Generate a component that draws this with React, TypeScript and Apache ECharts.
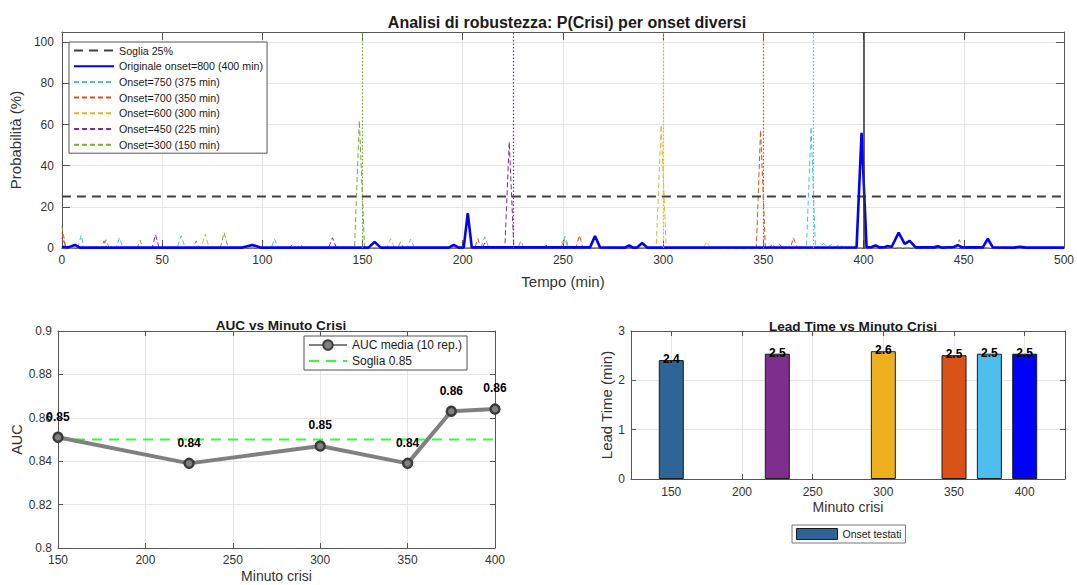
import React, { useEffect, useRef } from "react";
import * as echarts from "echarts";

// ---------- data ----------
const timeRange = [0, 500];
const probThreshold = 25;

const probOriginal: number[][] = [
  [0, 0.5], [3, 0.3], [6.5, 1.5], [9, 0.2], [90, 0.2], [95, 1.5], [99, 0.2], [153, 0.2], [156, 3], [159, 0.2],
  [193, 0.2], [195.5, 1.5], [198, 0.2], [200.5, 0.3], [202.5, 17], [204.5, 0.3], [263.5, 0.3], [266, 5.8], [268.5, 0.3],
  [281, 0.2], [283, 1.2], [285, 0.2], [287, 0.2], [289.5, 2.4], [292, 0.2], [396.5, 0.3], [399, 56], [401.5, 0.3],
  [404, 0.5], [406, 1.2], [408, 0.3], [410.5, 0.4], [412, 1], [414, 0.5], [417.5, 7.5], [420.5, 2], [423, 3.5], [426, 0.3],
  [435, 0.3], [437, 0.8], [439, 0.2], [445, 0.5], [447, 1.4], [449, 0.3], [459.5, 0.3], [462, 4.5], [464.5, 0.3],
  [475, 0.2], [478, 0.6], [481, 0.2], [500, 0.2],
];
const prob750: number[][] = [
  [0, 0], [8, 0], [9.6, 6.2], [11, 0], [27, 0], [28.7, 5], [30.5, 0], [57.5, 0], [59.5, 6], [61.5, 0], [104.5, 0], [106, 4.5],
  [108, 0], [172, 0], [174, 4.2], [176, 0], [209, 0], [211, 5.4], [213, 0], [249, 0], [251, 5.7], [253, 0], [371.5, 0],
  [373.8, 58.9], [376, 0], [378, 0], [380, 2.2], [382, 0.5], [384, 1.8], [386, 0.5], [388, 1.8], [390, 0], [500, 0],
];
const prob700: number[][] = [
  [0, 7.5], [2, 0], [19.5, 0], [21, 3.5], [22.5, 0], [113, 0], [115, 1.5], [117, 0], [119, 1.5], [121, 0], [206, 0],
  [207.5, 4.5], [209, 0], [256.5, 0], [258.2, 6.2], [260, 0], [346.5, 0], [348.6, 57.3], [351, 0], [353, 0], [354.5, 2],
  [356, 0], [358, 1.8], [360, 0], [363.5, 0], [365, 5], [367, 0], [446, 0], [447.8, 4], [449.5, 0], [500, 0],
];
const prob600: number[][] = [
  [0, 0], [69.5, 0], [71.5, 6.8], [73.5, 0], [162, 0], [164, 4.5], [166, 0], [248, 0], [250, 3.5], [252, 0],
  [296.5, 0], [299, 59.7], [301.5, 0], [320, 0], [321.8, 3], [323.5, 0], [500, 0],
];
const prob450: number[][] = [
  [0, 5], [1.5, 0], [45, 0], [46.7, 6.5], [48.5, 0], [133, 0], [135, 5], [137, 0], [209.5, 0], [211, 2.5], [212.5, 0],
  [221, 0], [223.2, 51.6], [225.5, 0], [240, 0], [241.5, 1.5], [243, 0], [500, 0],
];
const prob300: number[][] = [
  [0, 10.6], [2, 0], [20.5, 0], [22, 4], [23.5, 0], [37.5, 0], [39, 3.7], [40.5, 0], [65.5, 0], [67, 3.5], [68.5, 0],
  [79, 0], [80.9, 7.5], [83, 0], [146, 0], [148.4, 61.9], [151, 0], [167.5, 0], [169, 3], [170.5, 0], [227.5, 0],
  [229, 3.5], [230.5, 0], [249.5, 0], [251, 4.5], [252.5, 0], [500, 0],
];

const onsetMinutes = [150, 225, 300, 350, 375, 400];
const aucMean = [0.851, 0.839, 0.847, 0.839, 0.863, 0.864];
const aucThreshold = 0.85;
const leadTime = [2.41, 2.54, 2.59, 2.51, 2.54, 2.54];
const barColors = ["#2f6496", "#7e2f8e", "#edb120", "#d95319", "#4dbeee", "#0000ff"];
const leadTicks = [150, 200, 250, 300, 350, 400];

const FONT = "'Liberation Sans', Arial, Helvetica, sans-serif";
const AXC = "#555555";
const TXT = "#333333";
const GRIDC = "#e6e6e6";

function axisPair(gridIndex: number, opts: any, pos: "x" | "y", tickLen: number, nameSize: number) {
  const main: any = {
    gridIndex,
    type: "value",
    ...opts,
    axisLine: { show: true, onZero: false, lineStyle: { color: AXC, width: 1 } },
    axisTick: { show: true, inside: true, length: tickLen, lineStyle: { color: AXC }, ...(opts.axisTick || {}) },
    axisLabel: { color: TXT, fontFamily: FONT, fontSize: 12, ...(opts.axisLabel || {}) },
    splitLine: { show: true, lineStyle: { color: GRIDC, width: 1 } },
    nameTextStyle: { color: TXT, fontFamily: FONT, fontSize: nameSize },
  };
  const mirror: any = {
    gridIndex,
    type: "value",
    min: opts.min,
    max: opts.max,
    interval: opts.interval,
    position: pos === "x" ? "top" : "right",
    axisLine: { show: true, onZero: false, lineStyle: { color: AXC, width: 1 } },
    axisTick: { show: true, inside: true, length: tickLen, lineStyle: { color: AXC }, ...(opts.axisTick || {}) },
    axisLabel: { show: false, ...(opts.axisLabel && opts.axisLabel.customValues ? { customValues: opts.axisLabel.customValues } : {}) },
    splitLine: { show: false },
  };
  return [main, mirror];
}

export default function App() {
  const ref = useRef<HTMLDivElement>(null);
  useEffect(() => {
    document.body.style.margin = "0";
    const chart = echarts.init(ref.current!, null, { renderer: "svg" });

    const dashed = [5, 3];
    const vline = (x: number, color: string) => ({
      symbol: "none",
      silent: true,
      label: { show: false },
      lineStyle: { type: [1.5, 2], color, width: 1.2 },
      data: [{ xAxis: x }],
    });

    const [x0, x0m] = axisPair(0, {
      min: timeRange[0], max: timeRange[1], interval: 50,
      name: "Tempo (min)", nameLocation: "middle", nameGap: 26,
      axisLabel: { margin: 6 },
    }, "x", 8, 15);
    const [y0, y0m] = axisPair(0, {
      min: 0, max: 105, interval: 20,
      name: "Probabilità (%)", nameLocation: "middle", nameGap: 31,
      axisLabel: { showMaxLabel: false, margin: 8 },
    }, "y", 8, 15);
    const [x1, x1m] = axisPair(1, {
      min: 150, max: 400, interval: 50,
      name: "Minuto crisi", nameLocation: "middle", nameGap: 21,
      axisLabel: { margin: 6 },
    }, "x", 5, 14);
    const [y1, y1m] = axisPair(1, {
      min: 0.8, max: 0.9, interval: 0.02,
      name: "AUC", nameLocation: "middle", nameGap: 31,
      axisLabel: { formatter: (v: number) => (Math.abs(v - 0.8) < 1e-9 || Math.abs(v - 0.9) < 1e-9 ? v.toFixed(1) : v.toFixed(2)), margin: 6 },
    }, "y", 5, 14.5);
    const [x2, x2m] = axisPair(2, {
      min: 121.5, max: 428.5,
      name: "Minuto crisi", nameLocation: "middle", nameGap: 21,
      axisLabel: { customValues: leadTicks, margin: 7 },
      axisTick: { customValues: leadTicks },
    }, "x", 5, 14);
    const [y2, y2m] = axisPair(2, {
      min: 0, max: 3, interval: 1,
      name: "Lead Time (min)", nameLocation: "middle", nameGap: 12,
      axisLabel: { margin: 6 },
    }, "y", 5, 15);

    const option: any = {
      animation: false,
      backgroundColor: "#ffffff",
      textStyle: { fontFamily: FONT },
      title: [
        { text: "Analisi di robustezza: P(Crisi) per onset diversi", left: 562, top: 9, textAlign: "center",
          textStyle: { fontFamily: FONT, fontSize: 16, fontWeight: "bold", color: "#1a1a1a" } },
        { text: "AUC vs Minuto Crisi", left: 276, top: 313, textAlign: "center",
          textStyle: { fontFamily: FONT, fontSize: 13.6, fontWeight: "bold", color: "#1a1a1a" } },
        { text: "Lead Time vs Minuto Crisi", left: 848, top: 314, textAlign: "center",
          textStyle: { fontFamily: FONT, fontSize: 13.6, fontWeight: "bold", color: "#1a1a1a" } },
      ],
      grid: [
        { left: 59, top: 32, width: 1006, height: 216 },
        { left: 58, top: 331, width: 437, height: 217 },
        { left: 631, top: 331, width: 434, height: 148 },
      ],
      xAxis: [x0, x0m, x1, x1m, x2, x2m],
      yAxis: [y0, y0m, y1, y1m, y2, y2m],
      legend: [
        {
          left: 69, top: 42, orient: "vertical", itemWidth: 40, itemHeight: 10, itemGap: 4.7,
          padding: [3, 4, 3, 4], backgroundColor: "#ffffff", borderColor: "#555", borderWidth: 1,
          itemStyle: { opacity: 0 },
          textStyle: { fontFamily: FONT, fontSize: 10.7, color: "#1a1a1a" },
          data: ["Soglia 25%", "Originale onset=800 (400 min)", "Onset=750 (375 min)", "Onset=700 (350 min)",
            "Onset=600 (300 min)", "Onset=450 (225 min)", "Onset=300 (150 min)"],
        },
        {
          left: 304, top: 336, orient: "vertical", itemWidth: 38, itemHeight: 12, itemGap: 4,
          padding: [3, 5, 3, 4], backgroundColor: "#ffffff", borderColor: "#555", borderWidth: 1,
          textStyle: { fontFamily: FONT, fontSize: 12, color: "#1a1a1a" },
          data: ["AUC media (10 rep.)", { name: "Soglia 0.85", itemStyle: { opacity: 0 } }],
        },
        {
          left: 792, top: 525, orient: "horizontal", itemWidth: 41, itemHeight: 11, itemGap: 4,
          padding: [3, 4, 3, 4], backgroundColor: "#ffffff", borderColor: "#777", borderWidth: 1,
          icon: "rect",
          itemStyle: { borderWidth: 1 },
          textStyle: { fontFamily: FONT, fontSize: 10.5, color: "#1a1a1a" },
          data: ["Onset testati"],
        },
      ],
      series: [
        { name: "Soglia 25%", type: "line", xAxisIndex: 0, yAxisIndex: 0, symbol: "none", z: 3,
          lineStyle: { color: "#404040", width: 2, type: [9, 6] }, itemStyle: { color: "#404040" },
          data: [[timeRange[0], probThreshold], [timeRange[1], probThreshold]] },
        { name: "Onset=300 (150 min)", type: "line", xAxisIndex: 0, yAxisIndex: 0, symbol: "none", z: 2,
          lineStyle: { color: "#77ac30", width: 1, type: dashed }, itemStyle: { color: "#77ac30" },
          data: prob300, markLine: vline(150, "#77ac30") },
        { name: "Onset=450 (225 min)", type: "line", xAxisIndex: 0, yAxisIndex: 0, symbol: "none", z: 2,
          lineStyle: { color: "#7e2f8e", width: 1, type: dashed }, itemStyle: { color: "#7e2f8e" },
          data: prob450, markLine: vline(225, "#7e2f8e") },
        { name: "Onset=600 (300 min)", type: "line", xAxisIndex: 0, yAxisIndex: 0, symbol: "none", z: 2,
          lineStyle: { color: "#edb120", width: 1, type: dashed }, itemStyle: { color: "#edb120" },
          data: prob600, markLine: vline(300, "#edb120") },
        { name: "Onset=700 (350 min)", type: "line", xAxisIndex: 0, yAxisIndex: 0, symbol: "none", z: 2,
          lineStyle: { color: "#d95319", width: 1, type: dashed }, itemStyle: { color: "#d95319" },
          data: prob700, markLine: vline(350, "#d95319") },
        { name: "Onset=750 (375 min)", type: "line", xAxisIndex: 0, yAxisIndex: 0, symbol: "none", z: 2,
          lineStyle: { color: "#4dbeee", width: 1, type: dashed }, itemStyle: { color: "#4dbeee" },
          data: prob750, markLine: vline(375, "#4dbeee") },
        { name: "Originale onset=800 (400 min)", type: "line", xAxisIndex: 0, yAxisIndex: 0, symbol: "none", z: 4,
          lineStyle: { color: "#0000ff", width: 2.6 }, itemStyle: { color: "#0000ff" },
          data: probOriginal,
          markLine: { symbol: "none", silent: true, label: { show: false },
            lineStyle: { type: "solid", color: "#333333", width: 1.5 }, data: [{ xAxis: 400 }] } },

        { name: "Soglia 0.85", type: "line", xAxisIndex: 2, yAxisIndex: 2, symbol: "none", z: 2,
          lineStyle: { color: "#33ff33", width: 2, type: [10, 7] }, itemStyle: { color: "#33ff33" },
          data: [[onsetMinutes[0], aucThreshold], [onsetMinutes[onsetMinutes.length - 1], aucThreshold]] },
        { name: "AUC media (10 rep.)", type: "line", xAxisIndex: 2, yAxisIndex: 2, z: 3,
          symbol: "circle", symbolSize: 9,
          lineStyle: { color: "#808080", width: 4 },
          itemStyle: { color: "#808080", borderColor: "#3c3c3c", borderWidth: 2.5 },
          label: { show: true, position: "top", distance: 9, color: "#000", fontWeight: "bold", fontSize: 12, fontFamily: FONT,
            formatter: (p: any) => Number(p.value[1]).toFixed(2) },
          data: onsetMinutes.map((m, i) => [m, aucMean[i]]) },

        { name: "Onset testati", type: "bar", xAxisIndex: 4, yAxisIndex: 4, barWidth: 25, z: 3,
          itemStyle: { color: barColors[0], borderColor: "#1a1a1a", borderWidth: 1 },
          label: { show: true, position: "top", distance: -5, color: "#000", fontWeight: "bold", fontSize: 12, fontFamily: FONT,
            formatter: (p: any) => Number(p.value[1]).toFixed(1) },
          data: onsetMinutes.map((m, i) => ({ value: [m, leadTime[i]], itemStyle: { color: barColors[i] } })) },
      ],
    };
    chart.setOption(option);
    return () => chart.dispose();
  }, []);
  return <div ref={ref} style={{ width: 1077, height: 585 }} />;
}
